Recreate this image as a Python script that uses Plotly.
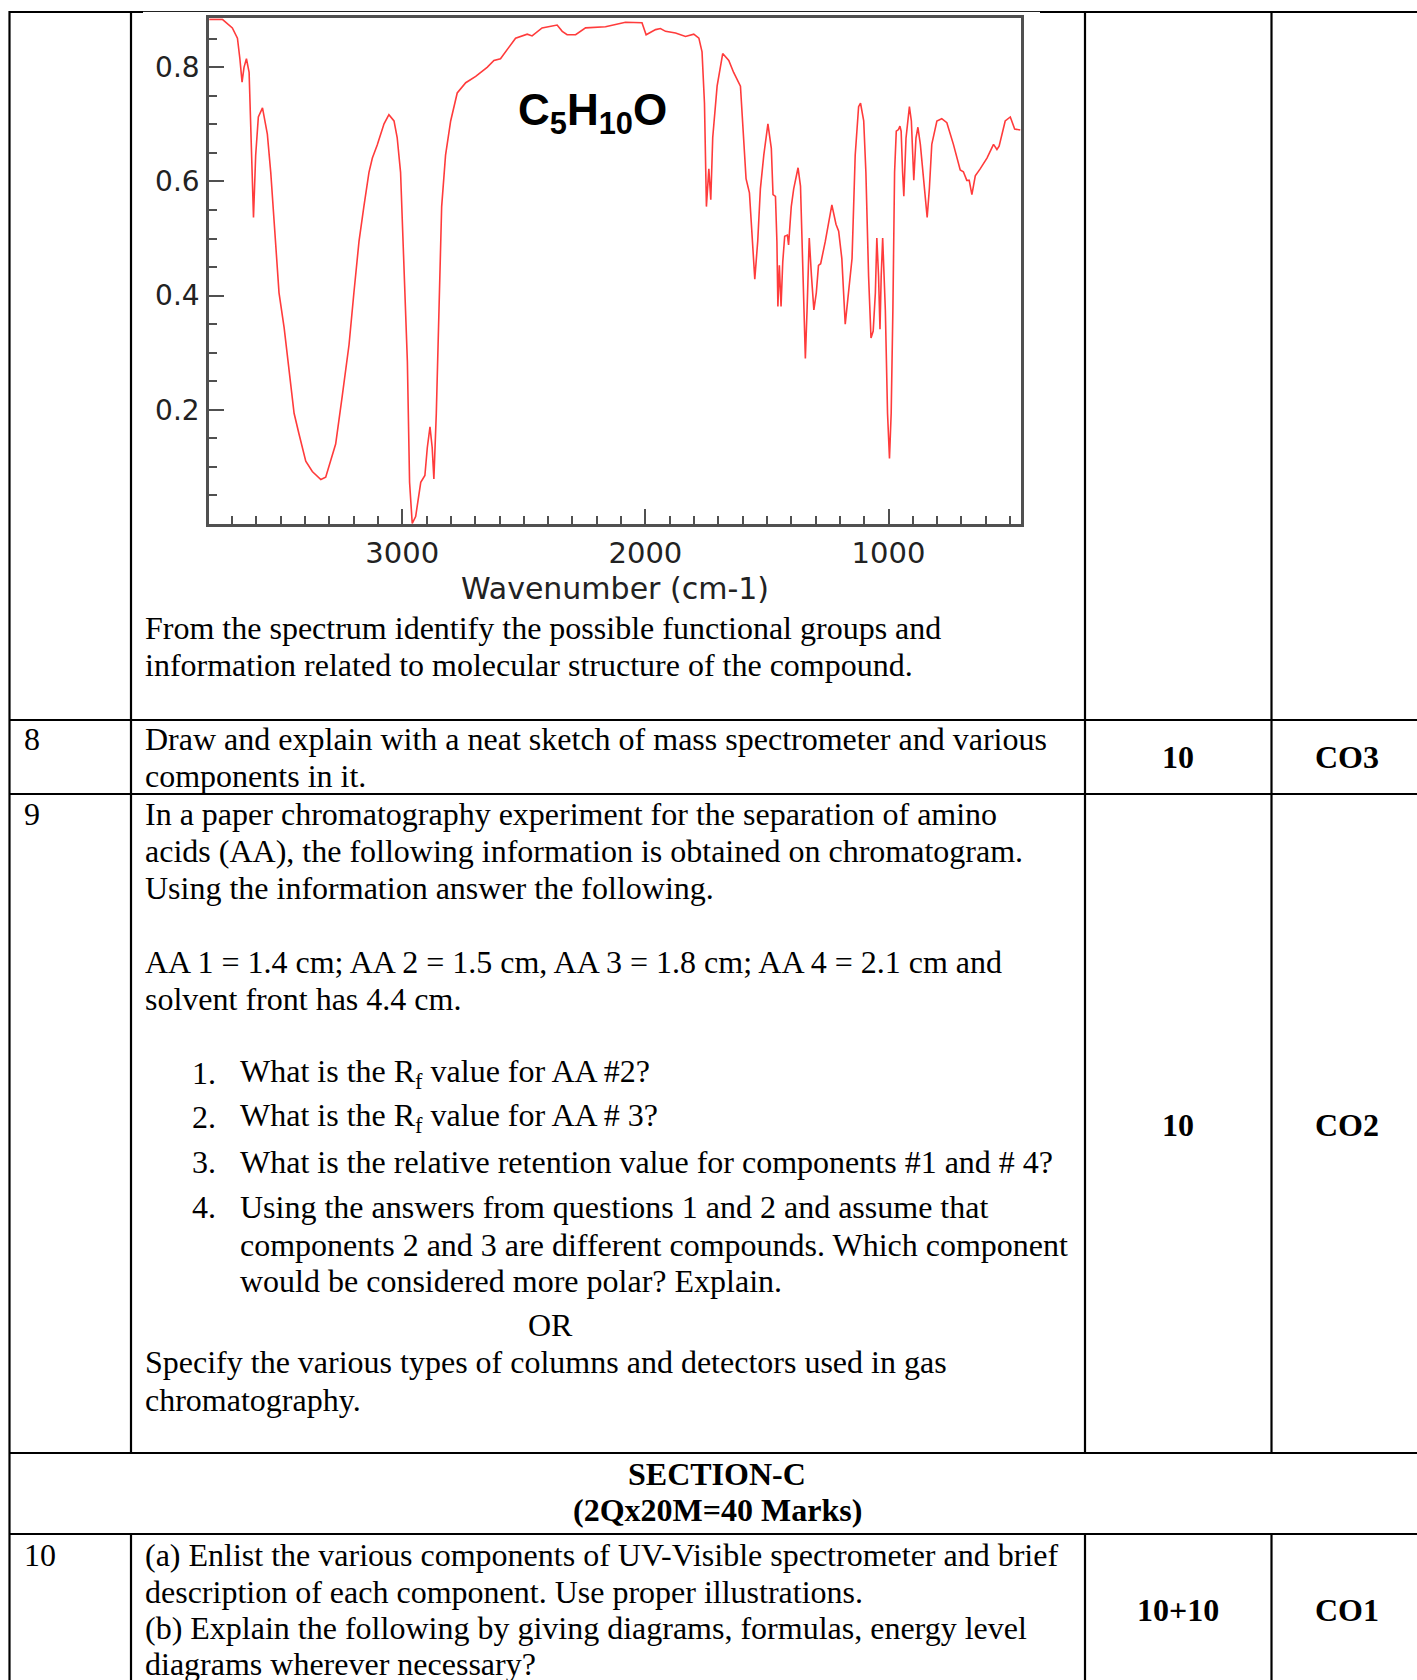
import plotly.graph_objects as go

# ---------------- data ----------------
wavenumber = [3794, 3740, 3699, 3678, 3668, 3659, 3651, 3641, 3630, 3622, 3612, 3603, 3592, 3575,
              3555, 3541, 3520, 3507, 3486, 3466, 3445, 3425, 3397, 3370, 3335, 3315, 3274, 3247,
              3219, 3199, 3178, 3158, 3137, 3123, 3103, 3075, 3055, 3034, 3021, 3007, 2993, 2979,
              2970, 2959, 2945, 2924, 2907, 2897, 2886, 2877, 2870, 2860, 2849, 2838, 2822, 2801,
              2774, 2739, 2698, 2651, 2623, 2596, 2534, 2486, 2466, 2425, 2363, 2342, 2322, 2287,
              2246, 2164, 2082, 2014, 1997, 1958, 1938, 1917, 1876, 1835, 1801, 1780, 1767, 1757,
              1749, 1739, 1731, 1723, 1705, 1682, 1657, 1637, 1609, 1596, 1586, 1572, 1561, 1550,
              1538, 1527, 1513, 1496, 1482, 1475, 1465, 1459, 1455, 1449, 1442, 1435, 1427, 1416,
              1411, 1400, 1390, 1372, 1362, 1353, 1342, 1335, 1326, 1317, 1307, 1297, 1288, 1279,
              1260, 1233, 1216, 1205, 1192, 1178, 1164, 1150, 1137, 1123, 1115, 1102, 1093, 1082,
              1072, 1063, 1054, 1048, 1041, 1035, 1030, 1024, 1013, 1004, 996, 989, 982, 975,
              968, 959, 953, 948, 942, 937, 928, 914, 906, 896, 887, 879, 869, 856,
              841, 832, 822, 801, 781, 760, 733, 705, 692, 678, 668, 657, 643, 623,
              595, 568, 554, 545, 520, 499, 481, 458]
signal = [0.884, 0.884, 0.869, 0.851, 0.815, 0.774, 0.800, 0.815, 0.791, 0.677, 0.537, 0.646, 0.713, 0.729,
          0.683, 0.616, 0.495, 0.405, 0.344, 0.266, 0.194, 0.158, 0.110, 0.092, 0.078, 0.082, 0.140, 0.224,
          0.314, 0.405, 0.495, 0.556, 0.616, 0.641, 0.664, 0.701, 0.717, 0.706, 0.677, 0.616, 0.465, 0.284,
          0.073, 0.001, 0.013, 0.073, 0.085, 0.134, 0.170, 0.134, 0.079, 0.194, 0.375, 0.556, 0.646, 0.706,
          0.755, 0.773, 0.784, 0.800, 0.812, 0.815, 0.851, 0.858, 0.855, 0.869, 0.874, 0.863, 0.857, 0.857,
          0.869, 0.871, 0.879, 0.878, 0.857, 0.866, 0.868, 0.863, 0.860, 0.854, 0.858, 0.851, 0.827, 0.737,
          0.556, 0.622, 0.568, 0.677, 0.767, 0.824, 0.812, 0.791, 0.767, 0.677, 0.605, 0.580, 0.495, 0.429,
          0.495, 0.587, 0.646, 0.701, 0.658, 0.577, 0.574, 0.495, 0.381, 0.453, 0.381, 0.459, 0.504, 0.506,
          0.489, 0.556, 0.587, 0.624, 0.592, 0.465, 0.290, 0.375, 0.501, 0.435, 0.375, 0.405, 0.453, 0.456,
          0.495, 0.559, 0.525, 0.513, 0.465, 0.350, 0.404, 0.465, 0.646, 0.731, 0.737, 0.706, 0.616, 0.435,
          0.326, 0.338, 0.405, 0.501, 0.435, 0.341, 0.435, 0.501, 0.375, 0.194, 0.115, 0.194, 0.375, 0.616,
          0.688, 0.691, 0.697, 0.688, 0.616, 0.574, 0.676, 0.731, 0.706, 0.602, 0.676, 0.695, 0.665, 0.599,
          0.537, 0.587, 0.665, 0.706, 0.710, 0.703, 0.665, 0.620, 0.617, 0.602, 0.602, 0.577, 0.610, 0.622,
          0.641, 0.665, 0.656, 0.662, 0.706, 0.713, 0.692, 0.690]

x_tickvals = [3000, 2000, 1000]
x_ticktext = ["3000", "2000", "1000"]
y_tickvals = [0.2, 0.4, 0.6, 0.8]
y_ticktext = ["0.2", "0.4", "0.6", "0.8"]
y_minorvals = [0.05, 0.1, 0.15, 0.25, 0.3, 0.35, 0.45, 0.5, 0.55, 0.65, 0.7, 0.75, 0.85]
formula = "<b>C<sub>5</sub>H<sub>10</sub>O</b>"
x_title = "Wavenumber (cm-1)"

# ---------------- page geometry helpers (page pixels -> paper) ----------------
FW, FH = 1417, 1680


def px(x):
    return x / FW


def py(y):
    return 1 - y / FH


SERIF = "Liberation Serif, Times New Roman, serif"
SANS = "DejaVu Sans, Verdana, sans-serif"

fig = go.Figure()
fig.add_trace(go.Scatter(x=wavenumber, y=signal, mode="lines",
                         line=dict(color="#ff3b3b", width=1.6), showlegend=False,
                         hoverinfo="skip"))

axis_col = "#505050"
fig.update_layout(
    width=FW, height=FH,
    margin=dict(l=0, r=0, t=0, b=0),
    paper_bgcolor="white", plot_bgcolor="white",
    xaxis=dict(domain=[px(209), px(1021)], range=[3795, 455], showgrid=False, zeroline=False,
               showline=True, mirror=True, linecolor=axis_col, linewidth=2.5,
               tickmode="array", tickvals=x_tickvals, ticktext=x_ticktext,
               ticks="inside", ticklen=15, tickwidth=2, tickcolor=axis_col,
               ticklabelstandoff=1,
               tickfont=dict(family=SANS, size=29, color="#222222"),
               minor=dict(tickmode="linear", tick0=0, dtick=100, ticks="inside",
                          ticklen=8, tickwidth=2, tickcolor=axis_col)),
    yaxis=dict(domain=[py(524), py(18.2)], range=[0, 0.886], showgrid=False, zeroline=False,
               showline=True, mirror=True, linecolor=axis_col, linewidth=2.5,
               tickmode="array", tickvals=y_tickvals, ticktext=y_ticktext,
               ticks="inside", ticklen=15, tickwidth=2, tickcolor=axis_col,
               ticklabelstandoff=1,
               tickfont=dict(family=SANS, size=28, color="#222222"),
               minor=dict(tickmode="array", tickvals=y_minorvals, ticks="inside",
                          ticklen=8, tickwidth=2, tickcolor=axis_col)),
)

ann = []
# chart annotations
ann.append(dict(x=px(592), y=py(113), xref="paper", yref="paper", text=formula, showarrow=False,
                font=dict(family="Liberation Sans, Arial, sans-serif", size=44, color="black"),
                xanchor="center", yanchor="middle"))
ann.append(dict(x=px(615), y=py(588), xref="paper", yref="paper", text=x_title, showarrow=False,
                font=dict(family=SANS, size=30, color="#222222"), xanchor="center", yanchor="middle"))

# table text: (x, y_center, text, bold, anchor)
LX = 142.5
IX = 238
NX = 21.5
lines = [
    (LX, 628, "From the spectrum identify the possible functional groups and", False, "left"),
    (LX, 665, "information related to molecular structure of the compound.", False, "left"),
    (NX, 739, "8", False, "left"),
    (LX, 739, "Draw and explain with a neat sketch of mass spectrometer and various", False, "left"),
    (LX, 776, "components in it.", False, "left"),
    (1178, 757, "10", True, "center"),
    (1347, 757, "CO3", True, "center"),
    (NX, 814, "9", False, "left"),
    (LX, 814, "In a paper chromatography experiment for the separation of amino", False, "left"),
    (LX, 851, "acids (AA), the following information is obtained on chromatogram.", False, "left"),
    (LX, 888, "Using the information answer the following.", False, "left"),
    (LX, 962, "AA 1 = 1.4 cm; AA 2 = 1.5 cm, AA 3 = 1.8 cm; AA 4 = 2.1 cm and", False, "left"),
    (LX, 999, "solvent front has 4.4 cm.", False, "left"),
    (190, 1073, "1.", False, "left"),
    (IX, 1073, "What is the R<sub>f</sub> value for AA #2?", False, "left"),
    (190, 1117, "2.", False, "left"),
    (IX, 1117, "What is the R<sub>f</sub> value for AA # 3?", False, "left"),
    (190, 1162, "3.", False, "left"),
    (IX, 1162, "What is the relative retention value for components #1 and # 4?", False, "left"),
    (190, 1207, "4.", False, "left"),
    (IX, 1207, "Using the answers from questions 1 and 2 and assume that", False, "left"),
    (IX, 1245, "components 2 and 3 are different compounds. Which component", False, "left"),
    (IX, 1281, "would be considered more polar? Explain.", False, "left"),
    (550, 1325, "OR", False, "center"),
    (LX, 1362, "Specify the various types of columns and detectors used in gas", False, "left"),
    (LX, 1400, "chromatography.", False, "left"),
    (1178, 1125, "10", True, "center"),
    (1347, 1125, "CO2", True, "center"),
    (717, 1474, "SECTION-C", True, "center"),
    (717, 1510, "(2Qx20M=40 Marks)", True, "center"),
    (NX, 1555, "10", False, "left"),
    (LX, 1555, "(a) Enlist the various components of UV-Visible spectrometer and brief", False, "left"),
    (LX, 1592, "description of each component. Use proper illustrations.", False, "left"),
    (LX, 1628, "(b) Explain the following by giving diagrams, formulas, energy level", False, "left"),
    (LX, 1664, "diagrams wherever necessary?", False, "left"),
    (1178, 1610, "10+10", True, "center"),
    (1347, 1610, "CO1", True, "center"),
]
for (x, y, t, b, anc) in lines:
    ann.append(dict(x=px(x), y=py(y), xref="paper", yref="paper",
                    text=f"<b>{t}</b>" if b else t, showarrow=False,
                    font=dict(family=SERIF, size=32, color="black"),
                    xanchor=anc, yanchor="middle"))

fig.update_layout(annotations=ann)

# table rules
shapes = []


def hline(y, x0, x1, w=2.2, c="black"):
    shapes.append(dict(type="line", xref="paper", yref="paper", x0=px(x0), x1=px(x1),
                       y0=py(y), y1=py(y), line=dict(color=c, width=w)))


def vline(x, y0, y1, w=2.2, c="black"):
    shapes.append(dict(type="line", xref="paper", yref="paper", x0=px(x), x1=px(x),
                       y0=py(y0), y1=py(y1), line=dict(color=c, width=w)))


hline(12, 9, 143)
hline(11.5, 143, 1040, w=1.2, c="#222222")
hline(12, 1040, 1417)
vline(9.5, 11, 1680)
for xc in (131, 1085, 1271.5):
    vline(xc, 11, 1453)
    vline(xc, 1534, 1680)
for yr in (720, 794, 1453, 1534):
    hline(yr, 9, 1417)

fig.update_layout(shapes=shapes)

fig.write_html("out.html", config={"displayModeBar": False},
               post_script="document.body.style.margin='0px';document.body.style.overflow='hidden';")
